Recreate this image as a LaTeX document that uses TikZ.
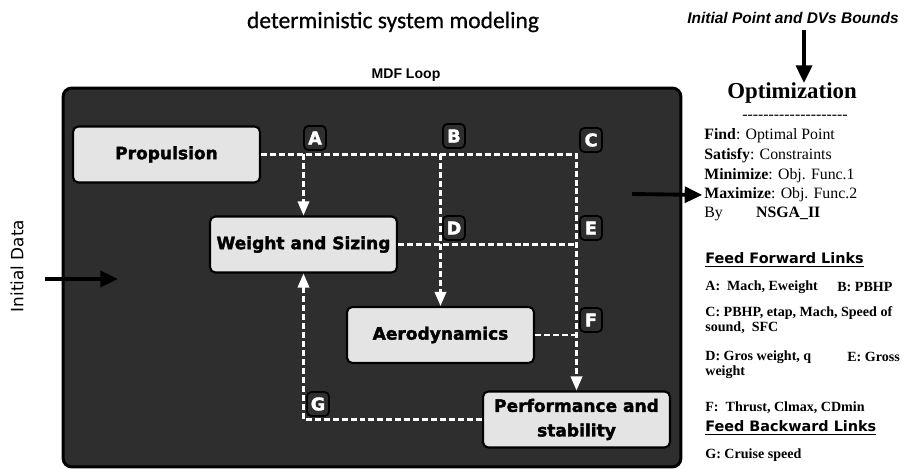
\documentclass[tikz,border=0pt]{standalone}
\usepackage{fontspec}
\setmainfont{Liberation Serif}
\newfontfamily\dejavu{DejaVu Sans}
\newfontfamily\heavyfont[FakeBold=2]{DejaVu Sans Bold}
\newfontfamily\carlito[FakeBold=0.6]{Carlito}
\newfontfamily\arial{Liberation Sans}
\usetikzlibrary{arrows.meta,positioning,calc}
\definecolor{loopgray}{HTML}{2E2E2E}
\definecolor{blockgray}{HTML}{E4E4E4}

\begin{document}
\begin{tikzpicture}[x=0.02cm, y=-0.02cm,
    loopbox/.style={rectangle, draw=black, line width=1.7pt, fill=loopgray, rounded corners=5pt, minimum width=12.36cm, minimum height=7.58cm},
    block/.style={rectangle, draw=black, line width=1.2pt, fill=blockgray, rounded corners=3pt, minimum width=3.74cm, minimum height=1.12cm, align=center, font=\heavyfont\fontsize{9.7}{14}\selectfont},
    tag/.style={rectangle, draw=black, line width=1pt, fill=loopgray, rounded corners=2.5pt, minimum width=0.44cm, minimum height=0.48cm, inner sep=0pt, text=white, font=\heavyfont\fontsize{10}{10}\selectfont},
    link/.style={draw=white, line width=1.3pt, dash pattern=on 3.4pt off 1.7pt},
    linkarrow/.style={link, -{Triangle[length=8pt, width=6.5pt]}},
    bigarrow/.style={-{Triangle[length=10pt, width=9pt]}, line width=2.2pt},
    opt/.style={anchor=west, inner sep=0pt, font=\fontsize{9}{11}\selectfont},
    legend/.style={anchor=west, inner sep=0pt, align=left, font=\bfseries\fontsize{8}{8.6}\selectfont},
    heading/.style={anchor=west, inner sep=0pt, font=\dejavu\bfseries\fontsize{8.2}{9}\selectfont}
]
\useasboundingbox (0,0) rectangle (906,469);

% Titles
\node (title) at (393,22) {\carlito\fontsize{13.4}{15}\selectfont deterministic system modeling};
\node (mdflabel) at (406,75) {\arial\bfseries\fontsize{8}{9}\selectfont MDF Loop};
\node (bounds) at (793,18) {\arial\bfseries\itshape\fontsize{8.8}{9}\selectfont Initial Point and DVs Bounds};
\node[rotate=90] (initdata) at (17,266) {\dejavu\fontsize{9.6}{10}\selectfont Initial Data};

% MDF loop
\node[loopbox] (mdf) at (372,277.5) {};

% Disciplines
\node[block] (prop) at (166.5,154.5) {Propulsion};
\node[block] (weight) at (303.5,244.5) {Weight and Sizing};
\node[block] (aero) at (440.5,335) {Aerodynamics};
\node[block] (perf) at (576.5,419.5) {Performance and\\stability};

% Coupling links
\draw[linkarrow] (prop.east) -| (perf.north);
\draw[linkarrow] (prop.east -| weight.north) -- (weight.north);
\draw[linkarrow] (prop.east -| aero.north) -- (aero.north);
\draw[link] (weight.east) -- (weight.east -| perf.north);
\draw[link] (aero.east) -- (aero.east -| perf.north);
\draw[linkarrow] (perf.west) -| (weight.south);

% Link tags
\node[tag] (tagA) at (315,138) {A};
\node[tag] (tagB) at (454,136) {B};
\node[tag] (tagC) at (591,140) {C};
\node[tag] (tagD) at (454,228) {D};
\node[tag] (tagE) at (591,228) {E};
\node[tag] (tagF) at (591,320) {F};
\node[tag] (tagG) at (318,404) {G};

% Optimization
\node (optim) at (792,93) {\bfseries\fontsize{13}{15}\selectfont Optimization};
\node (optrule) at (795,117) {\fontsize{9}{10}\selectfont -{}-{}-{}-{}-{}-{}-{}-{}-{}-{}-{}-{}-{}-{}-{}-{}-{}-{}-{}-};
\node[opt] (find) at (704,136) {\textbf{Find}: Optimal Point};
\node[opt] (satisfy) at (704,156) {\textbf{Satisfy}: Constraints};
\node[opt] (mini) at (704,176) {\textbf{Minimize}: Obj. Func.1};
\node[opt] (maxi) at (704,195) {\textbf{Maximize}: Obj. Func.2};
\node[opt] (by) at (704,214) {By\hspace{19pt}\textbf{NSGA\_II}};

% Inputs and outputs
\coordinate (datain) at (45,279);
\coordinate (datatip) at (118,279);
\draw[bigarrow] (datain) -- (datatip);
\coordinate (boundsfoot) at (804,30);
\coordinate (optimtop) at (804,83);
\draw[bigarrow] (boundsfoot) -- (optimtop);
\coordinate (loopout) at (632,194);
\draw[bigarrow, shorten >=1pt] (loopout) -- (maxi.west);

% Links legend
\node[heading] (ffl) at (705,260) {\underline{Feed Forward Links}};
\node[legend] (lnkA) at (705,287) {A:\ \ Mach, Eweight};
\node[legend] (lnkB) at (837,287) {B: PBHP};
\node[legend] (lnkC) at (705,320.5) {C: PBHP, etap, Mach, Speed of\\sound,\ \ SFC};
\node[legend] (lnkD) at (705,357) {D: Gros weight, q};
\node[legend] (lnkE) at (847,357) {E: Gross};
\node[legend] (lnkEb) at (705,372) {weight};
\node[legend] (lnkF) at (705,408) {F:\ \ Thrust, Clmax, CDmin};
\node[heading] (fbl) at (705,428) {\underline{Feed Backward Links}};
\node[legend] (lnkG) at (705,455) {G: Cruise speed};

\end{tikzpicture}
\end{document}
